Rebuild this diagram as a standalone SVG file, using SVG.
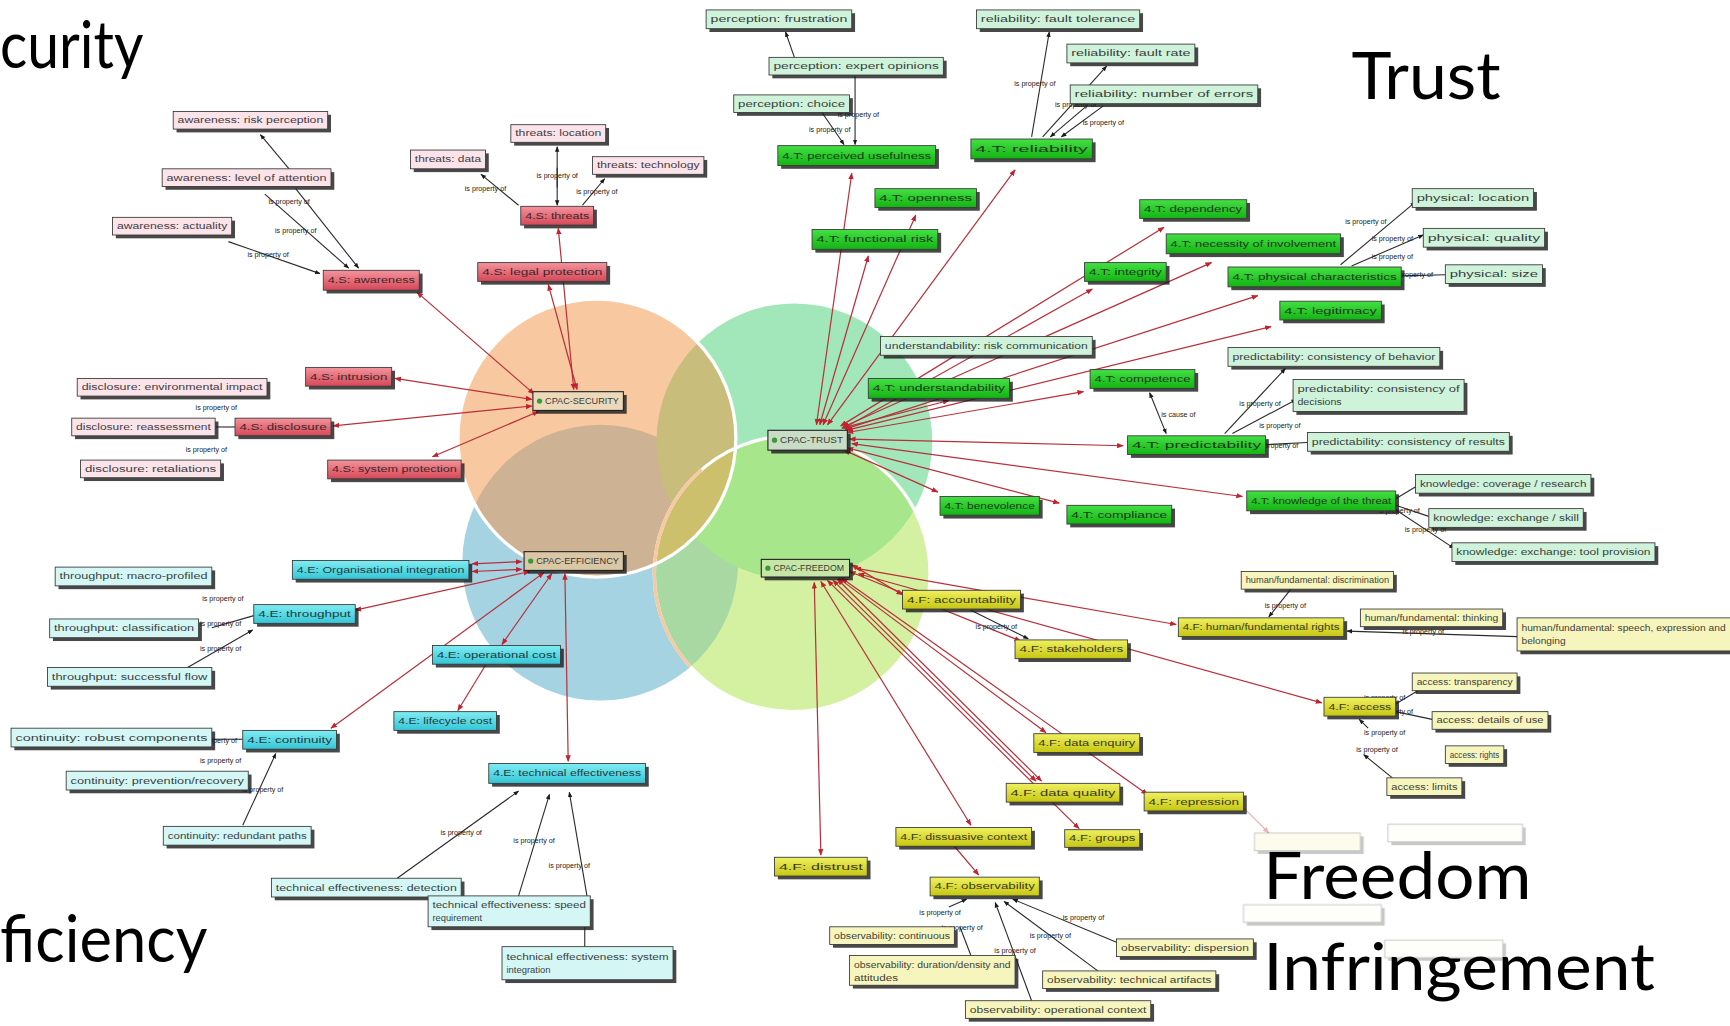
<svg xmlns="http://www.w3.org/2000/svg" width="1730" height="1026" viewBox="0 0 1730 1026">
<defs>
<style>
.big{font-family:Lato,"Open Sans","Liberation Sans",sans-serif;font-size:60px;fill:#000}
.sh{fill:#1a1a1a;opacity:.8}
.b{stroke:#3a3a3a;stroke-width:.8}
.n text{font-family:"Liberation Sans",Arial,sans-serif;font-size:7.5px;fill:#1a1a1a;opacity:.85}
.red .b{fill:url(#gR)}
.pink .b{fill:#FBE3EA}
.grn .b{fill:url(#gG)}
.mint .b{fill:#CFF2DA}
.cyan .b{fill:url(#gC)}
.lcyan .b{fill:#D4F7F5}
.yel .b{fill:url(#gY)}
.lyel .b{fill:#F7F5BE}
.ctr .b{stroke:#222;stroke-width:1}
.lbl{font-family:"Liberation Sans",Arial,sans-serif;font-size:6.5px;fill:#222;text-anchor:middle}
.re{stroke:#B8303C;stroke-width:1.1;fill:none;marker-start:url(#ar);marker-end:url(#ar)}
.re1{stroke:#B8303C;stroke-width:1.1;fill:none;marker-end:url(#ar)}
.ke{stroke:#2a2a2a;stroke-width:1;fill:none;marker-end:url(#ak)}
.ke0{stroke:#2a2a2a;stroke-width:1;fill:none}
</style>
<linearGradient id="gR" x1="0" y1="0" x2="0" y2="1"><stop offset="0" stop-color="#F3949C"/><stop offset="1" stop-color="#D64858"/></linearGradient>
<linearGradient id="gG" x1="0" y1="0" x2="0" y2="1"><stop offset="0" stop-color="#44E044"/><stop offset="1" stop-color="#12B412"/></linearGradient>
<linearGradient id="gC" x1="0" y1="0" x2="0" y2="1"><stop offset="0" stop-color="#80ECF2"/><stop offset="1" stop-color="#34C6D6"/></linearGradient>
<linearGradient id="gY" x1="0" y1="0" x2="0" y2="1"><stop offset="0" stop-color="#F0F060"/><stop offset="1" stop-color="#C6C612"/></linearGradient>
<marker id="ar" viewBox="0 0 10 10" refX="9" refY="5" markerWidth="5.5" markerHeight="5.5" orient="auto-start-reverse"><path d="M0,1 L10,5 L0,9 Z" fill="#C4202E"/></marker>
<marker id="ak" viewBox="0 0 10 10" refX="9" refY="5" markerWidth="5" markerHeight="5" orient="auto-start-reverse"><path d="M0,1 L10,5 L0,9 Z" fill="#1a1a1a"/></marker>
<clipPath id="cO"><circle cx="541" cy="397" r="126"/></clipPath>
<clipPath id="cB"><circle cx="544" cy="510" r="125"/></clipPath>
<clipPath id="cG"><circle cx="720" cy="400" r="125"/></clipPath>
<clipPath id="cF"><circle cx="718" cy="520" r="125"/></clipPath>
</defs>
<rect width="1730" height="1026" fill="#fff"/>
<g transform="scale(1.103316)">
<g id="venn">
<circle cx="544" cy="510" r="125" fill="#A6D3E1"/>
<circle cx="718" cy="520" r="125" fill="#D4F1A1"/>
<circle cx="720" cy="400" r="125" fill="#A1E7B9"/>
<circle cx="541" cy="397" r="126" fill="#F8C8A0"/>
<circle cx="544" cy="510" r="125" fill="#A9D9A3" clip-path="url(#cF)"/>
<circle cx="720" cy="400" r="125" fill="#A7E68A" clip-path="url(#cF)"/>
<circle cx="541" cy="397" r="126" fill="#CDB293" clip-path="url(#cB)"/>
<circle cx="541" cy="397" r="126" fill="#C9BD7B" clip-path="url(#cG)"/>
<circle cx="541" cy="397" r="126" fill="#CCC06C" clip-path="url(#cF)"/>
<circle cx="718" cy="520" r="125" fill="none" stroke="#fff" stroke-width="3"/>
<circle cx="718" cy="520" r="125" fill="none" stroke="#F6C9A2" stroke-width="3" clip-path="url(#cB)"/>
<circle cx="541" cy="397" r="126" fill="none" stroke="#fff" stroke-width="3"/>
</g>
<g id="titles">
<text class="big" x="0" y="62" textLength="130" lengthAdjust="spacingAndGlyphs">curity</text>
<text class="big" x="1225" y="90" textLength="135" lengthAdjust="spacingAndGlyphs">Trust</text>
<text class="big" x="0" y="872" textLength="188" lengthAdjust="spacingAndGlyphs">ficiency</text>
</g>
<g id="connectors">
<g id="red-edges">
<line class="re" x1="484" y1="357" x2="378" y2="265"/>
<line class="re" x1="520" y1="353" x2="506" y2="207"/>
<line class="re" x1="523" y1="353" x2="497" y2="258"/>
<line class="re" x1="482" y1="362" x2="358" y2="343"/>
<line class="re" x1="482" y1="368" x2="302" y2="386"/>
<line class="re" x1="488" y1="373" x2="392" y2="414"/>
<line class="re" x1="740" y1="385" x2="772" y2="157"/>
<line class="re" x1="743" y1="385" x2="787" y2="232"/>
<line class="re" x1="746" y1="385" x2="830" y2="195"/>
<line class="re" x1="750" y1="385" x2="920" y2="154"/>
<line class="re" x1="762" y1="386" x2="1055" y2="206"/>
<line class="re" x1="764" y1="387" x2="1098" y2="238"/>
<line class="re" x1="765" y1="388" x2="990" y2="262"/>
<line class="re" x1="766" y1="389" x2="1140" y2="268"/>
<line class="re" x1="767" y1="390" x2="1152" y2="296"/>
<line class="re" x1="768" y1="392" x2="982" y2="355"/>
<line class="re" x1="763" y1="388" x2="860" y2="363"/>
<line class="re" x1="770" y1="398" x2="1018" y2="404"/>
<line class="re" x1="772" y1="402" x2="1126" y2="450"/>
<line class="re" x1="765" y1="408" x2="850" y2="446"/>
<line class="re" x1="768" y1="406" x2="960" y2="456"/>
<line class="re" x1="473" y1="509" x2="428" y2="511"/>
<line class="re" x1="473" y1="516" x2="428" y2="518"/>
<line class="re" x1="480" y1="518" x2="322" y2="553"/>
<line class="re" x1="500" y1="520" x2="455" y2="584"/>
<line class="re" x1="493" y1="519" x2="300" y2="660"/>
<line class="re" x1="512" y1="520" x2="515" y2="690"/>
<line class="re1" x1="440" y1="603" x2="415" y2="644"/>
<line class="re" x1="772" y1="512" x2="818" y2="539"/>
<line class="re" x1="775" y1="515" x2="1066" y2="566"/>
<line class="re" x1="770" y1="518" x2="925" y2="581"/>
<line class="re" x1="778" y1="520" x2="1198" y2="637"/>
<line class="re" x1="760" y1="524" x2="948" y2="664"/>
<line class="re" x1="755" y1="526" x2="939" y2="708"/>
<line class="re" x1="759" y1="525" x2="944" y2="708"/>
<line class="re" x1="763" y1="524" x2="1040" y2="720"/>
<line class="re" x1="750" y1="526" x2="978" y2="751"/>
<line class="re" x1="744" y1="527" x2="880" y2="748"/>
<line class="re" x1="738" y1="528" x2="744" y2="775"/>
<line class="re1" x1="865" y1="767" x2="887" y2="793"/>
<line class="re1" x1="1127" y1="732" x2="1150" y2="755" opacity=".35"/>
</g>
<g id="black-edges">
<line class="ke" x1="262" y1="153" x2="236" y2="122"/>
<line class="ke" x1="240" y1="176" x2="316" y2="243"/>
<line class="ke" x1="268" y1="171" x2="325" y2="243"/>
<line class="ke" x1="207" y1="219" x2="290" y2="248"/>
<line class="ke" x1="470" y1="186" x2="436" y2="158"/>
<line class="ke" x1="505" y1="170" x2="505" y2="133"/>
<line class="ke" x1="505" y1="152" x2="505" y2="186"/>
<line class="ke" x1="528" y1="186" x2="548" y2="162"/>
<line class="ke0" x1="213" y1="387" x2="195" y2="387"/>
<line class="ke" x1="720" y1="52" x2="712" y2="29"/>
<line class="ke" x1="745" y1="102" x2="765" y2="131"/>
<line class="ke" x1="775" y1="69" x2="775" y2="131"/>
<line class="ke" x1="935" y1="124" x2="951" y2="29"/>
<line class="ke" x1="945" y1="124" x2="1003" y2="60"/>
<line class="ke" x1="985" y1="96" x2="952" y2="124"/>
<line class="ke" x1="1000" y1="96" x2="962" y2="124"/>
<line class="ke" x1="1215" y1="240" x2="1283" y2="183"/>
<line class="ke" x1="1225" y1="241" x2="1290" y2="213"/>
<line class="ke0" x1="1270" y1="250" x2="1310" y2="249"/>
<line x1="1042" y1="356" x2="1057" y2="393" style="stroke:#2a2a2a;stroke-width:1;marker-start:url(#ak);marker-end:url(#ak)"/>
<line class="ke" x1="1110" y1="393" x2="1165" y2="334"/>
<line class="ke" x1="1117" y1="393" x2="1175" y2="362"/>
<line class="ke0" x1="1147" y1="403" x2="1185" y2="401"/>
<line class="ke0" x1="1265" y1="452" x2="1285" y2="440"/>
<line class="ke0" x1="1265" y1="458" x2="1295" y2="468"/>
<line class="ke" x1="1265" y1="462" x2="1318" y2="497"/>
<line class="ke0" x1="192" y1="569" x2="230" y2="558"/>
<line class="ke" x1="170" y1="605" x2="229" y2="571"/>
<line class="ke0" x1="192" y1="670" x2="220" y2="670"/>
<line class="ke" x1="220" y1="748" x2="250" y2="683"/>
<line class="ke" x1="360" y1="796" x2="470" y2="717"/>
<line class="ke" x1="470" y1="812" x2="498" y2="720"/>
<line class="ke" x1="532" y1="812" x2="516" y2="718"/>
<line class="ke0" x1="530" y1="858" x2="530" y2="840"/>
<line class="ke" x1="1170" y1="534" x2="1150" y2="559"/>
<line class="ke" x1="1375" y1="577" x2="1221" y2="572"/>
<line class="ke0" x1="1265" y1="638" x2="1285" y2="626"/>
<line class="ke0" x1="1265" y1="645" x2="1298" y2="652"/>
<line class="ke" x1="1262" y1="705" x2="1236" y2="684"/>
<line class="ke" x1="1240" y1="660" x2="1232" y2="652"/>
<line class="ke" x1="880" y1="553" x2="932" y2="579"/>
<line class="ke" x1="860" y1="822" x2="876" y2="815"/>
<line class="ke" x1="1012" y1="854" x2="918" y2="815"/>
<line class="ke" x1="995" y1="880" x2="910" y2="817"/>
<line class="ke" x1="935" y1="907" x2="902" y2="818"/>
<line class="ke0" x1="880" y1="866" x2="870" y2="840"/>
</g>
<g id="edge-labels">
<text class="lbl" x="262" y="185">is property of</text>
<text class="lbl" x="268" y="211">is property of</text>
<text class="lbl" x="243" y="233">is property of</text>
<text class="lbl" x="440" y="173">is property of</text>
<text class="lbl" x="505" y="161">is property of</text>
<text class="lbl" x="541" y="176">is property of</text>
<text class="lbl" x="196" y="372">is property of</text>
<text class="lbl" x="187" y="410">is property of</text>
<text class="lbl" x="750" y="101">is property of</text>
<text class="lbl" x="778" y="106">is property of</text>
<text class="lbl" x="752" y="120">is property of</text>
<text class="lbl" x="938" y="78">is property of</text>
<text class="lbl" x="975" y="97">is property of</text>
<text class="lbl" x="1000" y="113">is property of</text>
<text class="lbl" x="1238" y="203">is property of</text>
<text class="lbl" x="1262" y="218">is property of</text>
<text class="lbl" x="1262" y="235">is property of</text>
<text class="lbl" x="1280" y="251">is property of</text>
<text class="lbl" x="1068" y="378">is cause of</text>
<text class="lbl" x="1142" y="368">is property of</text>
<text class="lbl" x="1160" y="388">is property of</text>
<text class="lbl" x="1158" y="406">is property of</text>
<text class="lbl" x="1268" y="465">is property of</text>
<text class="lbl" x="1292" y="482">is property of</text>
<text class="lbl" x="202" y="545">is property of</text>
<text class="lbl" x="200" y="567">is property of</text>
<text class="lbl" x="200" y="590">is property of</text>
<text class="lbl" x="196" y="673">is property of</text>
<text class="lbl" x="200" y="692">is property of</text>
<text class="lbl" x="238" y="718">is property of</text>
<text class="lbl" x="418" y="757">is property of</text>
<text class="lbl" x="484" y="764">is property of</text>
<text class="lbl" x="516" y="787">is property of</text>
<text class="lbl" x="1165" y="551">is property of</text>
<text class="lbl" x="1290" y="575">is property of</text>
<text class="lbl" x="1255" y="634">is property of</text>
<text class="lbl" x="1262" y="647">is property of</text>
<text class="lbl" x="1255" y="666">is property of</text>
<text class="lbl" x="1248" y="682">is property of</text>
<text class="lbl" x="903" y="570">is property of</text>
<text class="lbl" x="852" y="829">is property of</text>
<text class="lbl" x="872" y="843">is property of</text>
<text class="lbl" x="982" y="834">is property of</text>
<text class="lbl" x="952" y="850">is property of</text>
<text class="lbl" x="920" y="864">is property of</text>
</g>
</g>
<!-- Security nodes -->
<g id="n-p1" class="n pink"><rect class="sh" x="160" y="104" width="140" height="16"/><rect class="b" x="157" y="101" width="140" height="16"/><text x="161" y="111.7" textLength="132" lengthAdjust="spacingAndGlyphs">awareness: risk perception</text></g>
<g id="n-p2" class="n pink"><rect class="sh" x="150" y="156" width="153" height="16"/><rect class="b" x="147" y="153" width="153" height="16"/><text x="151" y="163.7" textLength="145" lengthAdjust="spacingAndGlyphs">awareness: level of attention</text></g>
<g id="n-p3" class="n pink"><rect class="sh" x="105" y="200" width="108" height="16"/><rect class="b" x="102" y="197" width="108" height="16"/><text x="106" y="207.7" textLength="100" lengthAdjust="spacingAndGlyphs">awareness: actuality</text></g>
<g id="n-p4" class="n pink"><rect class="sh" x="375" y="139" width="68" height="17"/><rect class="b" x="372" y="136" width="68" height="17"/><text x="376" y="147.2" textLength="60" lengthAdjust="spacingAndGlyphs">threats: data</text></g>
<g id="n-p5" class="n pink"><rect class="sh" x="466" y="116" width="86" height="16"/><rect class="b" x="463" y="113" width="86" height="16"/><text x="467" y="123.7" textLength="78" lengthAdjust="spacingAndGlyphs">threats: location</text></g>
<g id="n-p6" class="n pink"><rect class="sh" x="540" y="145" width="101" height="16"/><rect class="b" x="537" y="142" width="101" height="16"/><text x="541" y="152.7" textLength="93" lengthAdjust="spacingAndGlyphs">threats: technology</text></g>
<g id="n-p7" class="n pink"><rect class="sh" x="73" y="346" width="172" height="16"/><rect class="b" x="70" y="343" width="172" height="16"/><text x="74" y="353.7" textLength="164" lengthAdjust="spacingAndGlyphs">disclosure: environmental impact</text></g>
<g id="n-p8" class="n pink"><rect class="sh" x="68" y="382" width="130" height="16"/><rect class="b" x="65" y="379" width="130" height="16"/><text x="69" y="389.7" textLength="122" lengthAdjust="spacingAndGlyphs">disclosure: reassessment</text></g>
<g id="n-p9" class="n pink"><rect class="sh" x="76" y="420" width="127" height="16"/><rect class="b" x="73" y="417" width="127" height="16"/><text x="77" y="427.7" textLength="119" lengthAdjust="spacingAndGlyphs">disclosure: retaliations</text></g>
<g id="n-r1" class="n red"><rect class="sh" x="296" y="248" width="87" height="18"/><rect class="b" x="293" y="245" width="87" height="18"/><text x="297" y="256.7" textLength="79" lengthAdjust="spacingAndGlyphs">4.S: awareness</text></g>
<g id="n-r2" class="n red"><rect class="sh" x="475" y="190" width="66" height="17"/><rect class="b" x="472" y="187" width="66" height="17"/><text x="476" y="198.2" textLength="58" lengthAdjust="spacingAndGlyphs">4.S: threats</text></g>
<g id="n-r3" class="n red"><rect class="sh" x="436" y="241" width="117" height="17"/><rect class="b" x="433" y="238" width="117" height="17"/><text x="437" y="249.2" textLength="109" lengthAdjust="spacingAndGlyphs">4.S: legal protection</text></g>
<g id="n-r4" class="n red"><rect class="sh" x="280" y="336" width="78" height="17"/><rect class="b" x="277" y="333" width="78" height="17"/><text x="281" y="344.2" textLength="70" lengthAdjust="spacingAndGlyphs">4.S: intrusion</text></g>
<g id="n-r5" class="n red"><rect class="sh" x="216" y="382" width="87" height="16"/><rect class="b" x="213" y="379" width="87" height="16"/><text x="217" y="389.7" textLength="79" lengthAdjust="spacingAndGlyphs">4.S: disclosure</text></g>
<g id="n-r6" class="n red"><rect class="sh" x="300" y="420" width="121" height="17"/><rect class="b" x="297" y="417" width="121" height="17"/><text x="301" y="428.2" textLength="113" lengthAdjust="spacingAndGlyphs">4.S: system protection</text></g>
<g id="n-security" class="n ctr"><rect class="sh" x="486" y="358" width="82" height="17"/><rect class="b" x="483" y="355" width="82" height="17" fill="#EBD9BA"/><circle cx="489" cy="363.5" r="2.4" fill="#3a9a3a"/><text x="494" y="366.2" textLength="67" lengthAdjust="spacingAndGlyphs">CPAC-SECURITY</text></g>
<!-- Trust nodes -->
<g id="n-g1" class="n mint"><rect class="sh" x="643" y="12" width="132" height="17"/><rect class="b" x="640" y="9" width="132" height="17"/><text x="644" y="20.2" textLength="124" lengthAdjust="spacingAndGlyphs">perception: frustration</text></g>
<g id="n-g2" class="n mint"><rect class="sh" x="700" y="55" width="158" height="16"/><rect class="b" x="697" y="52" width="158" height="16"/><text x="701" y="62.7" textLength="150" lengthAdjust="spacingAndGlyphs">perception: expert opinions</text></g>
<g id="n-g3" class="n mint"><rect class="sh" x="668" y="89" width="105" height="16"/><rect class="b" x="665" y="86" width="105" height="16"/><text x="669" y="96.7" textLength="97" lengthAdjust="spacingAndGlyphs">perception: choice</text></g>
<g id="n-g4" class="n mint"><rect class="sh" x="888" y="12" width="148" height="17"/><rect class="b" x="885" y="9" width="148" height="17"/><text x="889" y="20.2" textLength="140" lengthAdjust="spacingAndGlyphs">reliability: fault tolerance</text></g>
<g id="n-g5" class="n mint"><rect class="sh" x="970" y="43" width="116" height="17"/><rect class="b" x="967" y="40" width="116" height="17"/><text x="971" y="51.2" textLength="108" lengthAdjust="spacingAndGlyphs">reliability: fault rate</text></g>
<g id="n-g6" class="n mint"><rect class="sh" x="973" y="80" width="170" height="17"/><rect class="b" x="970" y="77" width="170" height="17"/><text x="974" y="88.2" textLength="162" lengthAdjust="spacingAndGlyphs">reliability: number of errors</text></g>
<g id="n-g7" class="n mint"><rect class="sh" x="1283" y="174" width="110" height="17"/><rect class="b" x="1280" y="171" width="110" height="17"/><text x="1284" y="182.2" textLength="102" lengthAdjust="spacingAndGlyphs">physical: location</text></g>
<g id="n-g8" class="n mint"><rect class="sh" x="1293" y="210" width="110" height="17"/><rect class="b" x="1290" y="207" width="110" height="17"/><text x="1294" y="218.2" textLength="102" lengthAdjust="spacingAndGlyphs">physical: quality</text></g>
<g id="n-g9" class="n mint"><rect class="sh" x="1313" y="243" width="88" height="17"/><rect class="b" x="1310" y="240" width="88" height="17"/><text x="1314" y="251.2" textLength="80" lengthAdjust="spacingAndGlyphs">physical: size</text></g>
<g id="n-g10" class="n mint"><rect class="sh" x="1116" y="318" width="192" height="17"/><rect class="b" x="1113" y="315" width="192" height="17"/><text x="1117" y="326.2" textLength="184" lengthAdjust="spacingAndGlyphs">predictability: consistency of behavior</text></g>
<g id="n-g11" class="n mint"><rect class="sh" x="1175" y="347" width="155" height="29"/><rect class="b" x="1172" y="344" width="155" height="29"/><text x="1176" y="355" textLength="147" lengthAdjust="spacingAndGlyphs">predictability: consistency of</text><text x="1176" y="367" textLength="40" lengthAdjust="spacingAndGlyphs">decisions</text></g>
<g id="n-g12" class="n mint"><rect class="sh" x="1188" y="395" width="183" height="17"/><rect class="b" x="1185" y="392" width="183" height="17"/><text x="1189" y="403.2" textLength="175" lengthAdjust="spacingAndGlyphs">predictability: consistency of results</text></g>
<g id="n-g13" class="n mint"><rect class="sh" x="1286" y="433" width="159" height="17"/><rect class="b" x="1283" y="430" width="159" height="17"/><text x="1287" y="441.2" textLength="151" lengthAdjust="spacingAndGlyphs">knowledge: coverage / research</text></g>
<g id="n-g14" class="n mint"><rect class="sh" x="1298" y="464" width="140" height="17"/><rect class="b" x="1295" y="461" width="140" height="17"/><text x="1299" y="472.2" textLength="132" lengthAdjust="spacingAndGlyphs">knowledge: exchange / skill</text></g>
<g id="n-g15" class="n mint"><rect class="sh" x="1319" y="495" width="184" height="17"/><rect class="b" x="1316" y="492" width="184" height="17"/><text x="1320" y="503.2" textLength="176" lengthAdjust="spacingAndGlyphs">knowledge: exchange: tool provision</text></g>
<g id="n-g16" class="n mint"><rect class="sh" x="801" y="308" width="192" height="17"/><rect class="b" x="798" y="305" width="192" height="17"/><text x="802" y="316.2" textLength="184" lengthAdjust="spacingAndGlyphs">understandability: risk communication</text></g>
<g id="n-b1" class="n grn"><rect class="sh" x="708" y="135" width="143" height="18"/><rect class="b" x="705" y="132" width="143" height="18"/><text x="709" y="143.7" textLength="135" lengthAdjust="spacingAndGlyphs">4.T: perceived usefulness</text></g>
<g id="n-b2" class="n grn"><rect class="sh" x="883" y="129" width="110" height="18"/><rect class="b" x="880" y="126" width="110" height="18"/><text x="884" y="137.7" textLength="102" lengthAdjust="spacingAndGlyphs">4.T: reliability</text></g>
<g id="n-b3" class="n grn"><rect class="sh" x="796" y="174" width="92" height="17"/><rect class="b" x="793" y="171" width="92" height="17"/><text x="797" y="182.2" textLength="84" lengthAdjust="spacingAndGlyphs">4.T: openness</text></g>
<g id="n-b4" class="n grn"><rect class="sh" x="739" y="211" width="114" height="18"/><rect class="b" x="736" y="208" width="114" height="18"/><text x="740" y="219.7" textLength="106" lengthAdjust="spacingAndGlyphs">4.T: functional risk</text></g>
<g id="n-b5" class="n grn"><rect class="sh" x="1036" y="184" width="97" height="17"/><rect class="b" x="1033" y="181" width="97" height="17"/><text x="1037" y="192.2" textLength="89" lengthAdjust="spacingAndGlyphs">4.T: dependency</text></g>
<g id="n-b6" class="n grn"><rect class="sh" x="1060" y="215" width="158" height="18"/><rect class="b" x="1057" y="212" width="158" height="18"/><text x="1061" y="223.7" textLength="150" lengthAdjust="spacingAndGlyphs">4.T: necessity of involvement</text></g>
<g id="n-b7" class="n grn"><rect class="sh" x="986" y="241" width="74" height="17"/><rect class="b" x="983" y="238" width="74" height="17"/><text x="987" y="249.2" textLength="66" lengthAdjust="spacingAndGlyphs">4.T: integrity</text></g>
<g id="n-b8" class="n grn"><rect class="sh" x="1116" y="245" width="157" height="18"/><rect class="b" x="1113" y="242" width="157" height="18"/><text x="1117" y="253.7" textLength="149" lengthAdjust="spacingAndGlyphs">4.T: physical characteristics</text></g>
<g id="n-b9" class="n grn"><rect class="sh" x="1163" y="276" width="92" height="17"/><rect class="b" x="1160" y="273" width="92" height="17"/><text x="1164" y="284.2" textLength="84" lengthAdjust="spacingAndGlyphs">4.T: legitimacy</text></g>
<g id="n-b10" class="n grn"><rect class="sh" x="991" y="338" width="95" height="17"/><rect class="b" x="988" y="335" width="95" height="17"/><text x="992" y="346.2" textLength="87" lengthAdjust="spacingAndGlyphs">4.T: competence</text></g>
<g id="n-b11" class="n grn"><rect class="sh" x="790" y="346" width="128" height="18"/><rect class="b" x="787" y="343" width="128" height="18"/><text x="791" y="354.7" textLength="120" lengthAdjust="spacingAndGlyphs">4.T: understandability</text></g>
<g id="n-b12" class="n grn"><rect class="sh" x="1025" y="398" width="125" height="17"/><rect class="b" x="1022" y="395" width="125" height="17"/><text x="1026" y="406.2" textLength="117" lengthAdjust="spacingAndGlyphs">4.T: predictability</text></g>
<g id="n-b13" class="n grn"><rect class="sh" x="1133" y="448" width="135" height="18"/><rect class="b" x="1130" y="445" width="135" height="18"/><text x="1134" y="456.7" textLength="127" lengthAdjust="spacingAndGlyphs">4.T: knowledge of the threat</text></g>
<g id="n-b14" class="n grn"><rect class="sh" x="855" y="453" width="90" height="17"/><rect class="b" x="852" y="450" width="90" height="17"/><text x="856" y="461.2" textLength="82" lengthAdjust="spacingAndGlyphs">4.T: benevolence</text></g>
<g id="n-b15" class="n grn"><rect class="sh" x="970" y="461" width="95" height="17"/><rect class="b" x="967" y="458" width="95" height="17"/><text x="971" y="469.2" textLength="87" lengthAdjust="spacingAndGlyphs">4.T: compliance</text></g>
<g id="n-trust" class="n ctr"><rect class="sh" x="699" y="393" width="72" height="18"/><rect class="b" x="696" y="390" width="72" height="18" fill="#C9DCC6"/><circle cx="702" cy="399" r="2.4" fill="#3a9a3a"/><text x="707" y="401.7" textLength="57" lengthAdjust="spacingAndGlyphs">CPAC-TRUST</text></g>
<!-- Efficiency nodes -->
<g id="n-c1" class="n cyan"><rect class="sh" x="268" y="511" width="160" height="17"/><rect class="b" x="265" y="508" width="160" height="17"/><text x="269" y="519.2" textLength="152" lengthAdjust="spacingAndGlyphs">4.E: Organisational integration</text></g>
<g id="n-c2" class="n cyan"><rect class="sh" x="233" y="551" width="92" height="17"/><rect class="b" x="230" y="548" width="92" height="17"/><text x="234" y="559.2" textLength="84" lengthAdjust="spacingAndGlyphs">4.E: throughput</text></g>
<g id="n-c3" class="n cyan"><rect class="sh" x="395" y="588" width="116" height="17"/><rect class="b" x="392" y="585" width="116" height="17"/><text x="396" y="596.2" textLength="108" lengthAdjust="spacingAndGlyphs">4.E: operational cost</text></g>
<g id="n-c4" class="n cyan"><rect class="sh" x="360" y="648" width="93" height="17"/><rect class="b" x="357" y="645" width="93" height="17"/><text x="361" y="656.2" textLength="85" lengthAdjust="spacingAndGlyphs">4.E: lifecycle cost</text></g>
<g id="n-c5" class="n cyan"><rect class="sh" x="223" y="665" width="85" height="17"/><rect class="b" x="220" y="662" width="85" height="17"/><text x="224" y="673.2" textLength="77" lengthAdjust="spacingAndGlyphs">4.E: continuity</text></g>
<g id="n-c6" class="n cyan"><rect class="sh" x="446" y="695" width="142" height="18"/><rect class="b" x="443" y="692" width="142" height="18"/><text x="447" y="703.7" textLength="134" lengthAdjust="spacingAndGlyphs">4.E: technical effectiveness</text></g>
<g id="n-l1" class="n lcyan"><rect class="sh" x="53" y="517" width="142" height="17"/><rect class="b" x="50" y="514" width="142" height="17"/><text x="54" y="525.2" textLength="134" lengthAdjust="spacingAndGlyphs">throughput: macro-profiled</text></g>
<g id="n-l2" class="n lcyan"><rect class="sh" x="48" y="564" width="135" height="17"/><rect class="b" x="45" y="561" width="135" height="17"/><text x="49" y="572.2" textLength="127" lengthAdjust="spacingAndGlyphs">throughput: classification</text></g>
<g id="n-l3" class="n lcyan"><rect class="sh" x="46" y="608" width="149" height="17"/><rect class="b" x="43" y="605" width="149" height="17"/><text x="47" y="616.2" textLength="141" lengthAdjust="spacingAndGlyphs">throughput: successful flow</text></g>
<g id="n-l4" class="n lcyan"><rect class="sh" x="13" y="663" width="182" height="17"/><rect class="b" x="10" y="660" width="182" height="17"/><text x="14" y="671.2" textLength="174" lengthAdjust="spacingAndGlyphs">continuity: robust components</text></g>
<g id="n-l5" class="n lcyan"><rect class="sh" x="63" y="702" width="165" height="17"/><rect class="b" x="60" y="699" width="165" height="17"/><text x="64" y="710.2" textLength="157" lengthAdjust="spacingAndGlyphs">continuity: prevention/recovery</text></g>
<g id="n-l6" class="n lcyan"><rect class="sh" x="151" y="752" width="134" height="17"/><rect class="b" x="148" y="749" width="134" height="17"/><text x="152" y="760.2" textLength="126" lengthAdjust="spacingAndGlyphs">continuity: redundant paths</text></g>
<g id="n-l7" class="n lcyan"><rect class="sh" x="249" y="799" width="172" height="17"/><rect class="b" x="246" y="796" width="172" height="17"/><text x="250" y="807.2" textLength="164" lengthAdjust="spacingAndGlyphs">technical effectiveness: detection</text></g>
<g id="n-l8" class="n lcyan"><rect class="sh" x="391" y="815" width="147" height="28"/><rect class="b" x="388" y="812" width="147" height="28"/><text x="392" y="823" textLength="139" lengthAdjust="spacingAndGlyphs">technical effectiveness: speed</text><text x="392" y="835" textLength="45" lengthAdjust="spacingAndGlyphs">requirement</text></g>
<g id="n-l9" class="n lcyan"><rect class="sh" x="458" y="861" width="155" height="30"/><rect class="b" x="455" y="858" width="155" height="30"/><text x="459" y="870" textLength="147" lengthAdjust="spacingAndGlyphs">technical effectiveness: system</text><text x="459" y="882" textLength="40" lengthAdjust="spacingAndGlyphs">integration</text></g>
<g id="n-efficiency" class="n ctr"><rect class="sh" x="478" y="503" width="90" height="17"/><rect class="b" x="475" y="500" width="90" height="17" fill="#D9C7A6"/><circle cx="481" cy="508.5" r="2.4" fill="#3a9a3a"/><text x="486" y="511.2" textLength="75" lengthAdjust="spacingAndGlyphs">CPAC-EFFICIENCY</text></g>
<!-- Freedom nodes -->
<g id="n-y1" class="n yel"><rect class="sh" x="821" y="538" width="107" height="17"/><rect class="b" x="818" y="535" width="107" height="17"/><text x="822" y="546.2" textLength="99" lengthAdjust="spacingAndGlyphs">4.F: accountability</text></g>
<g id="n-y2" class="n yel"><rect class="sh" x="1071" y="563" width="150" height="17"/><rect class="b" x="1068" y="560" width="150" height="17"/><text x="1072" y="571.2" textLength="142" lengthAdjust="spacingAndGlyphs">4.F: human/fundamental rights</text></g>
<g id="n-y3" class="n yel"><rect class="sh" x="923" y="583" width="102" height="17"/><rect class="b" x="920" y="580" width="102" height="17"/><text x="924" y="591.2" textLength="94" lengthAdjust="spacingAndGlyphs">4.F: stakeholders</text></g>
<g id="n-y4" class="n yel"><rect class="sh" x="1203" y="635" width="65" height="17"/><rect class="b" x="1200" y="632" width="65" height="17"/><text x="1204" y="643.2" textLength="57" lengthAdjust="spacingAndGlyphs">4.F: access</text></g>
<g id="n-y5" class="n yel"><rect class="sh" x="940" y="668" width="96" height="17"/><rect class="b" x="937" y="665" width="96" height="17"/><text x="941" y="676.2" textLength="88" lengthAdjust="spacingAndGlyphs">4.F: data enquiry</text></g>
<g id="n-y6" class="n yel"><rect class="sh" x="915" y="713" width="103" height="17"/><rect class="b" x="912" y="710" width="103" height="17"/><text x="916" y="721.2" textLength="95" lengthAdjust="spacingAndGlyphs">4.F: data quality</text></g>
<g id="n-y7" class="n yel"><rect class="sh" x="1040" y="721" width="90" height="17"/><rect class="b" x="1037" y="718" width="90" height="17"/><text x="1041" y="729.2" textLength="82" lengthAdjust="spacingAndGlyphs">4.F: repression</text></g>
<g id="n-y8" class="n yel"><rect class="sh" x="968" y="755" width="68" height="16"/><rect class="b" x="965" y="752" width="68" height="16"/><text x="969" y="762.7" textLength="60" lengthAdjust="spacingAndGlyphs">4.F: groups</text></g>
<g id="n-y9" class="n yel"><rect class="sh" x="815" y="753" width="123" height="17"/><rect class="b" x="812" y="750" width="123" height="17"/><text x="816" y="761.2" textLength="115" lengthAdjust="spacingAndGlyphs">4.F: dissuasive context</text></g>
<g id="n-y10" class="n yel"><rect class="sh" x="705" y="780" width="84" height="17"/><rect class="b" x="702" y="777" width="84" height="17"/><text x="706" y="788.2" textLength="76" lengthAdjust="spacingAndGlyphs">4.F: distrust</text></g>
<g id="n-y11" class="n yel"><rect class="sh" x="846" y="798" width="99" height="17"/><rect class="b" x="843" y="795" width="99" height="17"/><text x="847" y="806.2" textLength="91" lengthAdjust="spacingAndGlyphs">4.F: observability</text></g>
<g id="n-ly1" class="n lyel"><rect class="sh" x="1128" y="521" width="138" height="16"/><rect class="b" x="1125" y="518" width="138" height="16"/><text x="1129" y="528.7" textLength="130" lengthAdjust="spacingAndGlyphs">human/fundamental: discrimination</text></g>
<g id="n-ly2" class="n lyel"><rect class="sh" x="1236" y="555" width="129" height="16"/><rect class="b" x="1233" y="552" width="129" height="16"/><text x="1237" y="562.7" textLength="121" lengthAdjust="spacingAndGlyphs">human/fundamental: thinking</text></g>
<g id="n-ly3" class="n lyel"><rect class="sh" x="1378" y="563" width="195" height="30"/><rect class="b" x="1375" y="560" width="195" height="30"/><text x="1379" y="572" textLength="185" lengthAdjust="spacingAndGlyphs">human/fundamental: speech, expression and</text><text x="1379" y="584" textLength="40" lengthAdjust="spacingAndGlyphs">belonging</text></g>
<g id="n-ly4" class="n lyel"><rect class="sh" x="1283" y="613" width="95" height="16"/><rect class="b" x="1280" y="610" width="95" height="16"/><text x="1284" y="620.7" textLength="87" lengthAdjust="spacingAndGlyphs">access: transparency</text></g>
<g id="n-ly5" class="n lyel"><rect class="sh" x="1301" y="648" width="105" height="16"/><rect class="b" x="1298" y="645" width="105" height="16"/><text x="1302" y="655.7" textLength="97" lengthAdjust="spacingAndGlyphs">access: details of use</text></g>
<g id="n-ly6" class="n lyel"><rect class="sh" x="1313" y="679" width="53" height="16"/><rect class="b" x="1310" y="676" width="53" height="16"/><text x="1314" y="686.7" textLength="45" lengthAdjust="spacingAndGlyphs">access: rights</text></g>
<g id="n-ly7" class="n lyel"><rect class="sh" x="1260" y="708" width="68" height="16"/><rect class="b" x="1257" y="705" width="68" height="16"/><text x="1261" y="715.7" textLength="60" lengthAdjust="spacingAndGlyphs">access: limits</text></g>
<g id="n-ly8" class="n lyel"><rect class="sh" x="755" y="843" width="113" height="16"/><rect class="b" x="752" y="840" width="113" height="16"/><text x="756" y="850.7" textLength="105" lengthAdjust="spacingAndGlyphs">observability: continuous</text></g>
<g id="n-ly9" class="n lyel"><rect class="sh" x="773" y="869" width="150" height="27"/><rect class="b" x="770" y="866" width="150" height="27"/><text x="774" y="877" textLength="142" lengthAdjust="spacingAndGlyphs">observability: duration/density and</text><text x="774" y="889" textLength="40" lengthAdjust="spacingAndGlyphs">attitudes</text></g>
<g id="n-ly10" class="n lyel"><rect class="sh" x="1015" y="854" width="124" height="16"/><rect class="b" x="1012" y="851" width="124" height="16"/><text x="1016" y="861.7" textLength="116" lengthAdjust="spacingAndGlyphs">observability: dispersion</text></g>
<g id="n-ly11" class="n lyel"><rect class="sh" x="948" y="883" width="157" height="16"/><rect class="b" x="945" y="880" width="157" height="16"/><text x="949" y="890.7" textLength="149" lengthAdjust="spacingAndGlyphs">observability: technical artifacts</text></g>
<g id="n-ly12" class="n lyel"><rect class="sh" x="878" y="910" width="168" height="16"/><rect class="b" x="875" y="907" width="168" height="16"/><text x="879" y="917.7" textLength="160" lengthAdjust="spacingAndGlyphs">observability: operational context</text></g>
<g id="faded" opacity="0.3">
<g id="n-fd1" class="n lyel"><rect class="sh" x="1140" y="758" width="96" height="16"/><rect class="b" x="1137" y="755" width="96" height="16"/></g>
<g id="n-fd2" class="n"><rect class="sh" x="1261" y="750" width="122" height="16"/><rect class="b" x="1258" y="747" width="122" height="16" fill="#FAFAF0"/></g>
<g id="n-fd4" class="n"><rect class="sh" x="1130" y="823" width="125" height="16"/><rect class="b" x="1127" y="820" width="125" height="16" fill="#FAFAF0"/></g>
<g id="n-fd5" class="n"><rect class="sh" x="1258" y="855" width="107" height="16"/><rect class="b" x="1255" y="852" width="107" height="16" fill="#FAFAF0"/></g>
</g>
<g id="n-freedom" class="n ctr"><rect class="sh" x="693" y="510" width="80" height="16"/><rect class="b" x="690" y="507" width="80" height="16" fill="#C6E6A8"/><circle cx="696" cy="515" r="2.4" fill="#3a9a3a"/><text x="701" y="517.7" textLength="64" lengthAdjust="spacingAndGlyphs">CPAC-FREEDOM</text></g>
<g id="titles2">
<text class="big" x="1145" y="815" textLength="243" lengthAdjust="spacingAndGlyphs">Freedom</text>
<text class="big" x="1145" y="897" textLength="355" lengthAdjust="spacingAndGlyphs">Infringement</text>
</g>
</g>
</svg>
